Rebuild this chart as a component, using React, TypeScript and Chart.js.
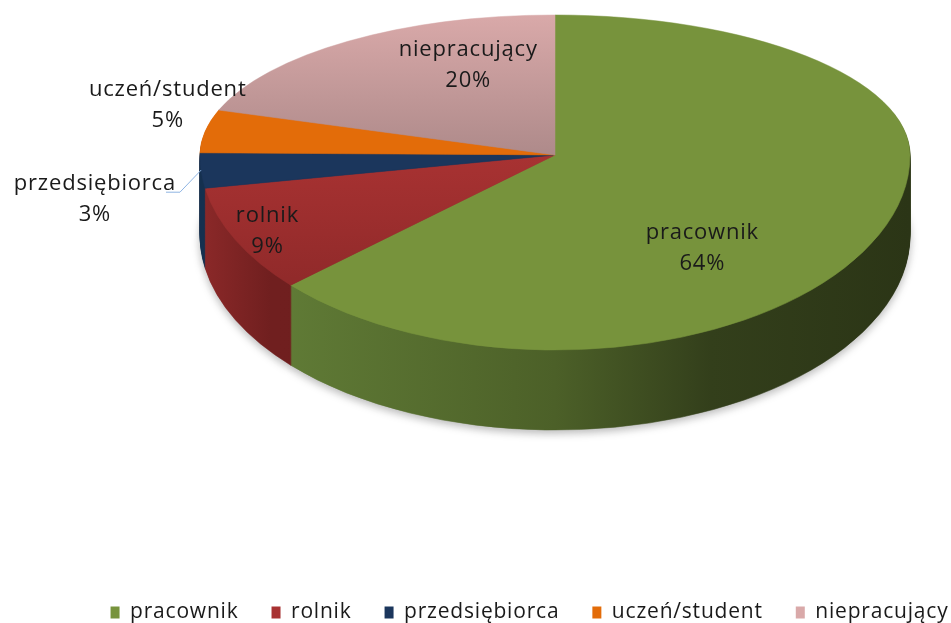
import React, { useEffect, useRef } from "react";
import { Chart, registerables } from "chart.js";
Chart.register(...registerables);

const categories = ["pracownik", "rolnik", "przedsiębiorca", "uczeń/student", "niepracujący"];
const values = [64, 9, 3, 5, 20];
const topColors = ["#77933C", "#A83232", "#1B365C", "#E36C09", "#D9A9A9"];
const topShade = ["#77933C", "#8E2929", "#1B365C", "#E36C09", "#AE8A8A"];
const sideStops: [number, string][][] = [
  [[0, "#66833A"], [0.5, "#4C6028"], [0.72, "#333F1B"], [1, "#2B3516"]],
  [[0, "#8C2929"], [0.1, "#701F1F"], [1, "#6A1D1D"]],
  [[0, "#15304F"], [1, "#10223A"]],
  [[0, "#B0560A"], [1, "#8A4207"]],
  [[0, "#A88484"], [1, "#8F6F6F"]],
];
const labelRadius = [0.55, 0.9, 1.3, 1.15, 0.7];
const labelShift = [[-31, 50], [0, 0], [0, 25], [15, -22], [58, -10]];

const W = 951;
const H = 623;
const PIE = { cx: 555, cy: 155, rx: 355, ryTop: 140, ryBottom: 195, depth: 80, left: 200, right: 910 };
const FONT = "Open Sans";
const FONT_SIZE = 22;
const LEGEND_FONT_SIZE = 21;
const SPACING = "0.8px";
const LINE = 31;

function project(nx: number, ny: number) {
  return { x: PIE.cx + nx * PIE.rx, y: PIE.cy + ny * (ny < 0 ? PIE.ryTop : PIE.ryBottom) };
}

function drawHalf(ctx: CanvasRenderingContext2D, arcs: any[], half: number, offsetY: number, fill: (i: number, half: number, a0: any) => any) {
  const a0 = arcs[0];
  const R = a0.outerRadius;
  const ry = half === 0 ? PIE.ryTop : PIE.ryBottom;
  ctx.save();
  ctx.beginPath();
  if (half === 0) ctx.rect(0, -H, W, PIE.cy + offsetY + H);
  else ctx.rect(0, PIE.cy + offsetY, W, 2 * H);
  ctx.clip();
  ctx.translate(PIE.cx, PIE.cy + offsetY);
  ctx.scale(PIE.rx / R, ry / R);
  ctx.translate(-a0.x, -a0.y);
  arcs.forEach((arc, i) => {
    const f: any = Object.create(arc);
    const c = fill(i, half, a0);
    f.options = { ...arc.options, backgroundColor: c, borderColor: c, borderWidth: 0.6 };
    f.draw(ctx);
  });
  ctx.restore();
}

function preX(a0: any, X: number) {
  return a0.x + ((X - PIE.cx) * a0.outerRadius) / PIE.rx;
}
function preY(a0: any, Y: number, half: number) {
  const ry = half === 0 ? PIE.ryTop : PIE.ryBottom;
  return a0.y + ((Y - PIE.cy) * a0.outerRadius) / ry;
}

const pie3d = {
  id: "pie3d",
  beforeLayout(chart: any) {
    chart.ctx.letterSpacing = SPACING;
  },
  beforeDraw(chart: any) {
    chart.ctx.letterSpacing = SPACING;
  },
  beforeDatasetsDraw(chart: any) {
    const ctx: CanvasRenderingContext2D = chart.ctx;
    const arcs = chart.getDatasetMeta(0).data;
    if (!arcs.length) return false;
    const a0 = arcs[0];
    ctx.save();
    (ctx as any).filter = "blur(4px)";
    for (let h = 0; h < 2; h++) drawHalf(ctx, arcs, h, PIE.depth + 3, () => "rgba(0,0,0,0.28)");
    ctx.restore();
    const sideFills = sideStops.map((stops) => {
      const g = ctx.createLinearGradient(preX(a0, PIE.left), 0, preX(a0, PIE.right), 0);
      stops.forEach(([o, c]) => g.addColorStop(o, c));
      return g;
    });
    for (let d = PIE.depth; d >= 1; d--) {
      for (let h = 0; h < 2; h++) drawHalf(ctx, arcs, h, d, (i) => sideFills[i]);
    }
    for (let h = 0; h < 2; h++) {
      drawHalf(ctx, arcs, h, 0, (i, half, a) => {
        if (topShade[i] === topColors[i]) return topColors[i];
        let g;
        if (half === 0) {
          g = ctx.createLinearGradient(0, preY(a, PIE.cy - PIE.ryTop, 0), 0, preY(a, PIE.cy, 0));
        } else {
          g = ctx.createLinearGradient(0, preY(a, PIE.cy, 1), 0, preY(a, PIE.cy + 140, 1));
        }
        g.addColorStop(0, topColors[i]);
        g.addColorStop(1, topShade[i]);
        return g;
      });
    }
    return false;
  },
  afterDraw(chart: any) {
    const ctx: CanvasRenderingContext2D = chart.ctx;
    const arcs = chart.getDatasetMeta(0).data;
    ctx.save();
    ctx.font = `${FONT_SIZE}px "${FONT}"`;
    (ctx as any).letterSpacing = SPACING;
    ctx.fillStyle = "#1a1a1a";
    ctx.textAlign = "center";
    ctx.textBaseline = "middle";
    arcs.forEach((arc: any, i: number) => {
      const mid = (arc.startAngle + arc.endAngle) / 2;
      const p = project(Math.cos(mid) * labelRadius[i], Math.sin(mid) * labelRadius[i]);
      const x = p.x + labelShift[i][0];
      const y = p.y + labelShift[i][1];
      ctx.fillText(categories[i], x, y - LINE / 2);
      ctx.fillText(values[i] + "%", x, y + LINE / 2);
      if (labelRadius[i] > 1.2) {
        const w = ctx.measureText(categories[i]).width;
        const e = project(Math.cos(mid), Math.sin(mid));
        const ly = y - LINE / 2 + 8;
        ctx.save();
        ctx.strokeStyle = "#8EB4E3";
        ctx.lineWidth = 1;
        ctx.beginPath();
        ctx.moveTo(x + w / 2 - 10, ly);
        ctx.lineTo(x + w / 2 + 4, ly);
        ctx.lineTo(e.x, e.y);
        ctx.stroke();
        ctx.restore();
      }
    });
    ctx.restore();
  },
};

export default function App() {
  const ref = useRef<HTMLCanvasElement>(null);
  useEffect(() => {
    if (!ref.current) return;
    const chart = new Chart(ref.current, {
      type: "pie",
      data: {
        labels: categories,
        datasets: [{ data: values, backgroundColor: topColors, borderWidth: 0 }],
      },
      options: {
        responsive: false,
        animation: false,
        events: [],
        layout: { padding: { left: 48, right: -60, top: 0, bottom: -10 } },
        plugins: {
          legend: {
            position: "bottom",
            labels: {
              boxWidth: 9,
              boxHeight: 12,
              padding: 33,
              color: "#1a1a1a",
              font: { family: FONT, size: LEGEND_FONT_SIZE },
            },
          },
          tooltip: { enabled: false },
        },
      },
      plugins: [pie3d],
    } as any);
    return () => chart.destroy();
  }, []);
  return (
    <div style={{ position: "fixed", left: 0, top: 0, width: W, height: H, background: "#fff" }}>
      <canvas ref={ref} width={W} height={H} />
    </div>
  );
}
